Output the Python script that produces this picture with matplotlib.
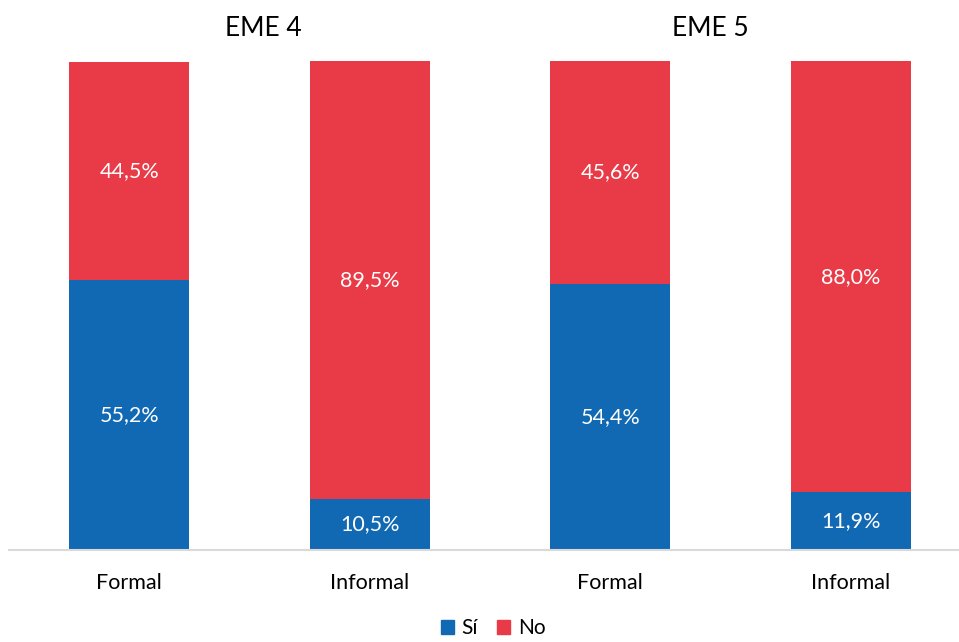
import matplotlib.pyplot as plt
from matplotlib.patches import Patch

categories = ["Formal", "Informal", "Formal", "Informal"]
groups = ["EME 4", "EME 5"]
si_vals = [55.2, 10.5, 54.4, 11.9]
no_vals = [44.5, 89.5, 45.6, 88.0]

BLUE = "#1169B4"
RED = "#E93B47"

plt.rcParams["font.family"] = ["Lato", "DejaVu Sans"]

W, H = 959, 642
fig = plt.figure(figsize=(W / 100, H / 100), dpi=100)
ax = fig.add_axes([9 / W, 92 / H, 962 / W, 489 / H])

x = list(range(len(categories)))
ax.bar(x, si_vals, width=0.5, color=BLUE)
ax.bar(x, no_vals, width=0.5, bottom=si_vals, color=RED)

fmt = lambda v: f"{v:.1f}%".replace(".", ",")
for i, (s, n) in enumerate(zip(si_vals, no_vals)):
    ax.text(i, s / 2, fmt(s), ha="center", va="center", color="white", fontsize=15.5)
    ax.text(i, s + n / 2, fmt(n), ha="center", va="center", color="white", fontsize=15.5)

ax.set_xlim(-0.5, 3.5)
ax.set_ylim(0, 100)
ax.set_xticks(x)
ax.set_xticklabels(categories, fontsize=15.5)
ax.tick_params(axis="x", length=0, pad=16.5)
ax.set_yticks([])
for side in ["top", "right", "left"]:
    ax.spines[side].set_visible(False)
ax.spines["bottom"].set_color("#D9D9D9")
ax.spines["bottom"].set_linewidth(1.5)

fig.text(263 / W, 1 - 28 / H, groups[0], ha="center", va="center", fontsize=19)
fig.text(710 / W, 1 - 28 / H, groups[1], ha="center", va="center", fontsize=19)

handles = [Patch(color=BLUE, label="Sí"), Patch(color=RED, label="No")]
fig.legend(handles=handles, loc="center", bbox_to_anchor=(493 / W, 1 - 628 / H),
           ncol=2, frameon=False, fontsize=15, handlelength=0.65, handleheight=0.65,
           handletextpad=0.35, columnspacing=0.9, borderpad=0)

fig.savefig("out.png", dpi=100)
